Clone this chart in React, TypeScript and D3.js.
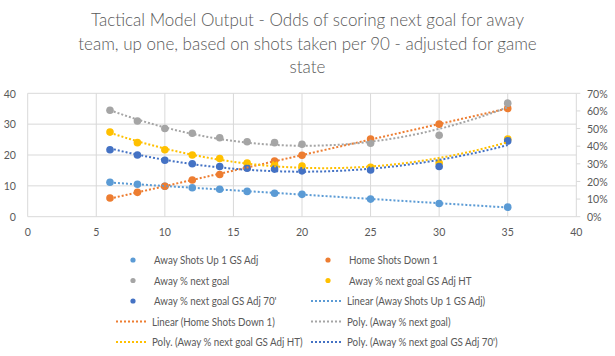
import React from "react";
import * as d3 from "d3";

const xVals = [6, 8, 10, 12, 14, 16, 18, 20, 25, 30, 35];
const awayShotsUp1 = [11.15, 10.5, 9.85, 9.4, 8.9, 8.2, 7.6, 7.25, 5.7, 4.3, 3.1];
const homeShotsDown1 = [6.05, 7.9, 9.85, 11.9, 13.7, 15.9, 18.05, 19.9, 25.2, 30.0, 35.1];
const awayPctNext = [0.604, 0.543, 0.5, 0.473, 0.448, 0.425, 0.42, 0.411, 0.417, 0.462, 0.644];
const awayPctHT = [0.48, 0.42, 0.38, 0.35, 0.33, 0.305, 0.295, 0.287, 0.28, 0.305, 0.44];
const awayPct70 = [0.38, 0.35, 0.32, 0.3, 0.285, 0.275, 0.27, 0.26, 0.265, 0.285, 0.43];

const xTicks = [0, 5, 10, 15, 20, 25, 30, 35, 40];
const yLeftTicks = [0, 10, 20, 30, 40];
const yRightTicks = [0, 0.1, 0.2, 0.3, 0.4, 0.5, 0.6, 0.7];

const titleLines = [
  "Tactical Model Output - Odds of scoring next goal for away",
  "team, up one, based on shots taken per 90 - adjusted for game",
  "state",
];

const C = {
  lightBlue: "#5B9BD5",
  orange: "#ED7D31",
  gray: "#A5A5A5",
  yellow: "#FFC000",
  darkBlue: "#4472C4",
  text: "#595959",
  grid: "#D9D9D9",
};

type Series = { name: string; values: number[]; color: string; axis: "L" | "R"; fit: "linear" | "poly"; };

const series: Series[] = [
  { name: "Away Shots Up 1 GS Adj", values: awayShotsUp1, color: C.lightBlue, axis: "L", fit: "linear" },
  { name: "Home Shots Down 1", values: homeShotsDown1, color: C.orange, axis: "L", fit: "linear" },
  { name: "Away % next goal", values: awayPctNext, color: C.gray, axis: "R", fit: "poly" },
  { name: "Away % next goal GS Adj HT", values: awayPctHT, color: C.yellow, axis: "R", fit: "poly" },
  { name: "Away % next goal GS Adj 70'", values: awayPct70, color: C.darkBlue, axis: "R", fit: "poly" },
];

function polyfit(xs: number[], ys: number[], order: number): number[] {
  const n = order + 1;
  const A: number[][] = Array.from({ length: n }, () => new Array(n + 1).fill(0));
  for (let r = 0; r < n; r++) {
    for (let c = 0; c < n; c++) A[r][c] = d3.sum(xs, (x) => Math.pow(x, r + c));
    A[r][n] = d3.sum(xs, (x, i) => ys[i] * Math.pow(x, r));
  }
  for (let i = 0; i < n; i++) {
    let p = i;
    for (let k = i + 1; k < n; k++) if (Math.abs(A[k][i]) > Math.abs(A[p][i])) p = k;
    [A[i], A[p]] = [A[p], A[i]];
    for (let k = i + 1; k < n; k++) {
      const f = A[k][i] / A[i][i];
      for (let j = i; j <= n; j++) A[k][j] -= f * A[i][j];
    }
  }
  const coef = new Array(n).fill(0);
  for (let i = n - 1; i >= 0; i--) {
    let s = A[i][n];
    for (let j = i + 1; j < n; j++) s -= A[i][j] * coef[j];
    coef[i] = s / A[i][i];
  }
  return coef;
}

function SText(props: { x: number; y: number; sx: number; size: number; anchor?: string; weight?: number; children: React.ReactNode }) {
  const { x, y, sx, size, anchor = "start", weight = 400, children } = props;
  return (
    <text
      transform={`translate(${x},${y}) scale(${sx},1)`}
      dy="0.35em"
      textAnchor={anchor}
      fontSize={size}
      fontWeight={weight}
      fill={C.text}
    >
      {children}
    </text>
  );
}

export default function App() {
  const W = 615, H = 356;
  const x = d3.scaleLinear().domain([0, 40]).range([27.7, 576.3]);
  const yL = d3.scaleLinear().domain([0, 40]).range([216.7, 93.3]);
  const yR = d3.scaleLinear().domain([0, 0.7]).range([216.7, 93.3]);
  const font = "Lato, 'Open Sans', sans-serif";

  const samples = d3.range(xVals[0], xVals[xVals.length - 1] + 0.001, 0.25);
  const line = d3.line<[number, number]>().x((d) => d[0]).y((d) => d[1]);

  const trend = (s: Series) => {
    const coef = polyfit(xVals, s.values, s.fit === "linear" ? 1 : 2);
    const y = s.axis === "L" ? yL : yR;
    const pts: [number, number][] = samples.map((xv) => {
      const v = coef.reduce((acc, c, i) => acc + c * Math.pow(xv, i), 0);
      return [x(xv), y(v)];
    });
    return line(pts) || "";
  };

  const legendItems: { label: string; color: string; kind: "marker" | "line" }[] = [
    ...series.map((s) => ({ label: s.name, color: s.color, kind: "marker" as const })),
    ...series.map((s) => ({
      label: `${s.fit === "linear" ? "Linear" : "Poly."} (${s.name})`,
      color: s.color,
      kind: "line" as const,
    })),
  ];

  return (
    <svg width={W} height={H} style={{ position: "absolute", left: 0, top: 0, background: "#fff" }} fontFamily={font}>
      <rect x={0} y={0} width={W} height={H} fill="#fff" />
      {titleLines.map((t, i) => (
        <text key={i} x={W / 2} y={26 + i * 23.7} textAnchor="middle" fontSize={17} fill={C.text} fontWeight={300}>
          {t}
        </text>
      ))}
      {/* gridlines */}
      {yLeftTicks.map((t) => (
        <line key={"h" + t} x1={x(0)} x2={x(40)} y1={yL(t)} y2={yL(t)} stroke={C.grid} strokeWidth={1} />
      ))}
      {xTicks.map((t) => (
        <line key={"v" + t} x1={x(t)} x2={x(t)} y1={yL(0)} y2={yL(40)} stroke={C.grid} strokeWidth={1} />
      ))}
      {/* right axis ticks */}
      {yRightTicks.map((t) => (
        <line key={"rt" + t} x1={x(40)} x2={x(40) + 4} y1={yR(t)} y2={yR(t)} stroke={C.grid} strokeWidth={1} />
      ))}
      {/* labels */}
      {yLeftTicks.map((t) => (
        <SText key={"yl" + t} x={16} y={yL(t)} sx={0.88} size={12} anchor="end">{t}</SText>
      ))}
      {yRightTicks.map((t) => (
        <SText key={"yr" + t} x={587} y={yR(t)} sx={0.88} size={12}>{d3.format(".0%")(t)}</SText>
      ))}
      {xTicks.map((t) => (
        <SText key={"xl" + t} x={x(t)} y={231.7} sx={0.88} size={12} anchor="middle">{t}</SText>
      ))}
      {/* series markers */}
      {series.map((s) => {
        const y = s.axis === "L" ? yL : yR;
        return (
          <g key={s.name}>
            {xVals.map((xv, i) => (
              <circle key={i} cx={x(xv)} cy={y(s.values[i])} r={3.8} fill={s.color} />
            ))}
          </g>
        );
      })}
      {/* trendlines */}
      {series.map((s) => (
        <path key={"t" + s.name} d={trend(s)} fill="none" stroke={s.color} strokeWidth={2} strokeDasharray="2 2" />
      ))}
      {/* legend */}
      {legendItems.map((it, i) => {
        const col = i % 2;
        const row = Math.floor(i / 2);
        const x0 = col === 0 ? 116 : 311;
        const yy = 260 + row * 20.5;
        return (
          <g key={"lg" + i}>
            {it.kind === "marker" ? (
              <circle cx={x0 + 17} cy={yy} r={2.6} fill={it.color} />
            ) : (
              <line x1={x0} x2={x0 + 32} y1={yy} y2={yy} stroke={it.color} strokeWidth={2} strokeDasharray="2 2" />
            )}
            <SText x={x0 + (it.kind === "marker" ? 38 : 36)} y={yy} sx={0.85} size={11.5}>{it.label}</SText>
          </g>
        );
      })}
    </svg>
  );
}
